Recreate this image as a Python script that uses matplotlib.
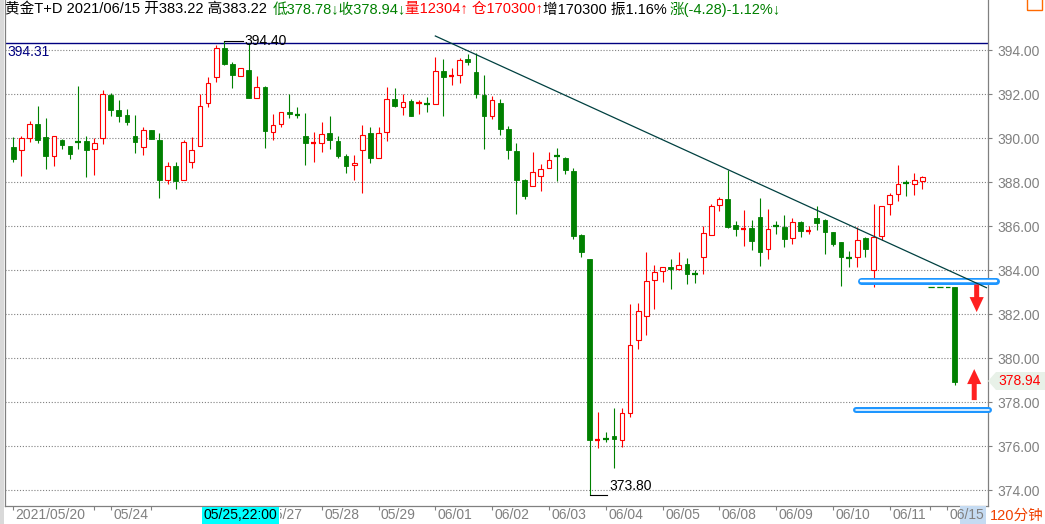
import numpy as np
import matplotlib
matplotlib.use('Agg')
import matplotlib.pyplot as plt
from matplotlib.patches import Rectangle, Polygon
import matplotlib.transforms as mtransforms

nan = np.nan
# ---------------- data ----------------
opens = [389.61, 389.45, 390.03, 390.64, 390.06, 389.21, 389.92, 389.65, 389.82, 389.88,
         389.50, 390.00, 391.98, 391.29, 391.06, 390.11, 389.62, 390.38, 389.92, 388.09,
         388.73, 388.12, 388.91, 389.64, 391.59, 392.77, 394.09, 393.38, 392.82, 393.11,
         391.85, 392.33, 390.27, 390.65, 391.20, 391.06, 390.11, 389.76, 389.80, 390.23,
         389.88, 389.18, 388.77, 389.45, 390.23, 389.12, 390.27, 391.77, 391.41, 391.68,
         391.58, 391.59, 391.55, 393.05, 392.80, 392.86, 393.61, 393.02, 391.98, 391.03,
         391.62, 390.44, 389.42, 388.11, 387.82, 388.27, 388.64, 389.19, 389.11, 388.50,
         385.59, 384.50, 376.27, 376.36, 376.47, 376.27, 377.53, 380.82, 381.91, 383.55,
         383.95, 384.15, 384.05, 384.29, 383.85, 384.62, 385.62, 386.95, 387.23, 386.06,
         385.85, 385.91, 386.41, 384.95, 386.02, 385.97, 385.45, 386.18, 385.76, 386.38,
         386.29, 385.74, 385.29, 384.59, 384.59, 385.47, 384.00, 385.58, 387.00, 387.45,
         388.00, 387.94, 388.08, nan, nan, nan, 383.22]
highs = [390.06, 390.11, 390.79, 391.45, 390.92, 390.11, 389.98, 389.65, 392.38, 390.11,
         390.00, 392.20, 392.08, 391.74, 391.32, 391.06, 390.50, 390.38, 390.23, 388.91,
         388.91, 389.91, 390.05, 392.00, 392.79, 394.26, 394.40, 393.48, 393.21, 394.32,
         392.83, 392.38, 391.11, 391.18, 392.02, 391.41, 391.14, 390.27, 390.74, 391.02,
         390.11, 389.29, 389.24, 390.61, 390.50, 390.50, 392.32, 392.27, 392.00, 391.77,
         391.73, 391.88, 393.68, 393.61, 393.20, 393.64, 393.83, 393.86, 392.89, 391.92,
         391.79, 390.56, 389.77, 388.15, 389.38, 388.82, 389.38, 389.56, 389.15, 388.67,
         385.64, 384.50, 377.55, 376.64, 377.74, 377.74, 382.48, 382.52, 384.82, 384.24,
         384.17, 384.52, 384.82, 384.56, 384.02, 386.02, 387.02, 387.33, 388.58, 386.23,
         386.73, 386.27, 387.29, 386.77, 386.24, 386.50, 386.36, 386.26, 386.02, 386.92,
         386.35, 385.74, 385.29, 384.88, 385.95, 385.52, 387.02, 386.91, 387.50, 388.79,
         388.11, 388.42, 388.27, nan, nan, nan, 383.22]
lows = [388.94, 388.30, 389.85, 389.80, 388.62, 388.74, 389.53, 389.08, 389.53, 388.26,
        388.35, 389.76, 391.03, 390.73, 390.59, 389.35, 389.26, 389.95, 387.30, 387.94,
        387.68, 388.09, 388.64, 389.64, 391.44, 392.58, 393.35, 392.30, 392.82, 391.83,
        391.85, 389.58, 389.92, 390.53, 390.94, 390.94, 388.79, 388.94, 389.39, 389.53,
        389.12, 388.41, 388.12, 387.53, 388.89, 389.12, 389.89, 391.44, 391.06, 391.03,
        391.12, 391.20, 391.55, 391.03, 392.44, 392.53, 393.35, 391.85, 389.53, 390.89,
        390.17, 389.08, 386.58, 387.26, 387.82, 387.62, 388.64, 388.08, 388.39, 385.44,
        384.59, 373.80, 375.91, 376.18, 375.03, 375.95, 377.35, 380.44, 381.05, 382.26,
        383.45, 383.17, 384.00, 383.38, 383.44, 383.85, 385.62, 386.71, 385.94, 385.58,
        385.12, 384.92, 384.21, 384.50, 385.67, 385.08, 385.18, 385.53, 385.64, 385.83,
        384.74, 385.12, 383.29, 384.17, 384.17, 384.59, 383.26, 385.38, 386.53, 387.15,
        387.39, 387.44, 387.71, nan, nan, nan, 378.78]
closes = [389.08, 390.00, 390.64, 389.94, 389.21, 390.11, 389.71, 389.30, 389.80, 389.48,
          389.77, 392.02, 391.30, 391.03, 390.74, 389.85, 390.38, 389.95, 388.12, 388.73,
          388.08, 389.82, 389.45, 391.45, 392.50, 394.09, 393.38, 392.88, 393.18, 391.83,
          392.32, 390.35, 390.59, 391.18, 391.09, 391.04, 389.80, 389.78, 390.18, 389.94,
          389.21, 388.76, 388.86, 390.14, 389.12, 390.23, 391.77, 391.48, 391.64, 391.03,
          391.61, 391.56, 393.05, 392.80, 392.83, 393.55, 393.48, 392.03, 391.03, 391.74,
          390.44, 389.48, 388.12, 387.39, 388.45, 388.61, 389.00, 389.17, 388.55, 385.58,
          384.85, 376.27, 376.30, 376.33, 376.32, 377.50, 380.59, 382.14, 383.50, 383.91,
          384.14, 384.05, 384.23, 383.83, 383.83, 385.68, 386.91, 387.23, 385.98, 385.89,
          385.88, 385.35, 384.85, 385.86, 386.00, 385.44, 386.18, 385.77, 385.83, 386.17,
          385.76, 385.21, 384.62, 384.57, 385.38, 384.98, 385.50, 386.91, 387.41, 387.91,
          387.98, 388.09, 388.23, nan, nan, nan, 378.94]

price_ticks = [374, 376, 378, 380, 382, 384, 386, 388, 390, 392, 394]
date_tick_pos = [0, 12, 31, 38, 45, 52, 59, 66, 73, 80, 87, 94, 101, 108, 115]
date_tick_labels = ['2021/05/20', '05/24', '05/27', '05/28', '05/29', '06/01', '06/02', '06/03',
                    '06/04', '06/05', '06/08', '06/09', '06/10', '06/11', '06/15']
minor_tick_pos = [10, 17, 113]

ref_line = 394.31
high_label = 394.40
low_label = 373.80
last_close = 378.94
last_open = 383.22
trend_pts = ([52.0, 119.9], [394.65, 383.21])
box_levels = [383.51, 377.67]

header = [("黄金T+D 2021/06/15 开383.22 高383.22", 'black', 5),
          ("低378.78↓收378.94↓", '#008000', 273),
          ("量12304↑ 仓170300↑", '#ff0000', 405),
          ("增170300 振1.16%", 'black', 543),
          ("涨(-4.28)-1.12%↓", '#008000', 670)]

# ---------------- figure ----------------
plt.rcParams['font.family'] = ['Liberation Sans', 'Noto Sans CJK SC', 'DejaVu Sans']
W, H = 1045, 524
fig = plt.figure(figsize=(W / 100, H / 100), dpi=100)
fig.patch.set_facecolor('white')

def fx(x):
    return x / W

def fy(y):
    return 1 - y / H

GRAY = '#808080'
GREEN = '#008000'
RED = '#ff0000'

ax = fig.add_axes([fx(5), fy(506), fx(987.7) - fx(5), fy(0) - fy(506)])
ax.set_facecolor('white')
ax.set_xlim(-1.023, 120.06)
ax.set_ylim(373.286, 396.286)

# grid
ax.hlines(price_ticks, -1.023, 120.06, colors=GRAY, linestyles=(0, (1, 1.6)), lw=0.8, zorder=1)
ax.axhline(ref_line, color='#000080', lw=1.0, zorder=2)

# candles
bw = 0.58
for i, (o, h, l, c) in enumerate(zip(opens, highs, lows, closes)):
    if np.isnan(o):
        continue
    up = c >= o
    col = RED if up else GREEN
    ax.vlines(i, l, h, color=col, lw=0.8, zorder=3)
    bot, top = min(o, c), max(o, c)
    if top - bot < 0.07:
        ax.hlines((o + c) / 2, i - bw / 2 - 0.05, i + bw / 2 + 0.05, color=col, lw=1.6, zorder=4)
    elif up:
        ax.add_patch(Rectangle((i - bw / 2, bot), bw, top - bot, facecolor='white',
                               edgecolor=col, lw=0.8, zorder=4))
    else:
        ax.add_patch(Rectangle((i - bw / 2, bot), bw, top - bot, facecolor=col,
                               edgecolor=col, lw=0.6, zorder=4))

# high / low annotations
ih = int(np.nanargmax(highs))
ax.plot([ih, ih + 2.3], [high_label + 0.02, high_label + 0.02], color='black', lw=0.8, zorder=5)
ax.text(ih + 2.5, high_label, f'{high_label:.2f}', ha='left', va='center', fontsize=10, color='black', zorder=6)
il = int(np.nanargmin(lows))
ax.plot([il, il + 2.1], [low_label - 0.02, low_label - 0.02], color='black', lw=0.8, zorder=5)
ax.text(il + 2.4, low_label + 0.4, f'{low_label:.2f}', ha='left', va='center', fontsize=10, color='black', zorder=6)

# ref label
fig.text(fx(7), fy(52), f'{ref_line:.2f}', ha='left', va='center', fontsize=10, color='#000080')

# pills (highlighted levels)
pill_specs = [(104.43, 121.13, 7, 2.5), (103.87, 120.18, 6, 1.6)]
for lvl, (x0, x1, outer, inner) in zip(box_levels, pill_specs):
    ln = ax.plot([x0, x1], [lvl, lvl], color='#1e96ff', lw=outer * 0.72, solid_capstyle='round', zorder=6)[0]
    ln.set_clip_on(False)
    ln2 = ax.plot([x0, x1], [lvl, lvl], color='white', lw=inner * 0.72, solid_capstyle='round', zorder=6.1)[0]
    ln2.set_clip_on(False)

# trendline
ax.plot(trend_pts[0], trend_pts[1], color='#004040', lw=0.9, zorder=7)

# dashed open level for last bar
ax.plot([112.7, 115.4], [last_open, last_open], color=GREEN, lw=0.9, ls=(0, (5, 2)), zorder=5)

# red arrows
ax.annotate('', xy=(118.7, 382.10), xytext=(118.7, 383.35),
            arrowprops=dict(arrowstyle='simple,head_length=0.9,head_width=0.85,tail_width=0.3',
                            fc='#ff2020', ec='none', mutation_scale=12, shrinkA=0, shrinkB=0),
            annotation_clip=False, zorder=8)
ax.annotate('', xy=(118.4, 379.51), xytext=(118.4, 378.10),
            arrowprops=dict(arrowstyle='simple,head_length=0.9,head_width=0.85,tail_width=0.3',
                            fc='#ff2020', ec='none', mutation_scale=12, shrinkA=0, shrinkB=0),
            annotation_clip=False, zorder=8)

# axes styling
for s in ['left', 'right', 'bottom']:
    ax.spines[s].set_color(GRAY)
    ax.spines[s].set_linewidth(0.9)
ax.spines['top'].set_visible(False)
ax.set_yticks(price_ticks)
ax.set_yticklabels([f'{v:.2f}' for v in price_ticks])
ax.tick_params(axis='y', left=False, right=True, labelleft=False, labelright=True,
               direction='out', length=3, width=0.8, color=GRAY, labelcolor=GRAY,
               labelsize=10, pad=4)
ax.set_xticks(sorted(date_tick_pos + minor_tick_pos))
ax.set_xticklabels([])
ax.tick_params(axis='x', direction='out', length=3, width=0.8, color=GRAY)

btrans = mtransforms.blended_transform_factory(ax.transData, fig.transFigure)
# highlight under last date label
ax.add_artist(Rectangle((fx(959.5), fy(524)), fx(986) - fx(959.5), fy(506) - fy(524),
                        transform=fig.transFigure, facecolor='#c5dbf2', edgecolor='none',
                        clip_on=False, zorder=9))
cbox = mtransforms.Bbox([[279.5, 0], [330, 20]])
for p, lab in zip(date_tick_pos, date_tick_labels):
    t = ax.text(p + 0.3, fy(515), lab, transform=btrans, ha='left', va='center',
                fontsize=10, color=GRAY, clip_on=False, zorder=10)
    if lab == '05/27':
        # partly hidden behind the crosshair date box
        t.set_clip_on(True)
        t.set_clip_box(cbox)

# crosshair date box
ax.add_artist(Rectangle((fx(201.7), fy(524)), fx(279.3) - fx(201.7), fy(506.7) - fy(524),
                        transform=fig.transFigure, facecolor='#00ffff', edgecolor='none',
                        clip_on=False, zorder=11))
ax.text(fx(203), fy(515), '05/25,22:00', transform=fig.transFigure, ha='left', va='center',
        fontsize=10, color='black', zorder=12, clip_on=False)

fig.text(fx(990), fy(516), '120分钟', ha='left', va='center', fontsize=10.5, color='#f04000')

# last price marker
ax.add_artist(Polygon([(fx(988), fy(381)), (fx(996), fy(372)), (fx(1045), fy(372)),
                       (fx(1045), fy(390)), (fx(996), fy(390))], closed=True,
                      transform=fig.transFigure, facecolor='#e8f1e8', edgecolor='none',
                      clip_on=False, zorder=9))
ax.text(fx(998), fy(381), f'{last_close:.2f}', transform=fig.transFigure, ha='left', va='center',
        fontsize=10, color=RED, zorder=10, clip_on=False)

# header
for txt, col, x in header:
    fig.text(fx(x), fy(9.5), txt, ha='left', va='center', fontsize=10.5, color=col)

# left strip & top-right icon
fig.add_artist(Rectangle((0, 0), fx(4), 1, transform=fig.transFigure, facecolor='#d9d9d9',
                         edgecolor='none'))
fig.add_artist(Rectangle((fx(1027), fy(10)), fx(15), fy(-2) - fy(10), transform=fig.transFigure,
                         facecolor='none', edgecolor='#ff6a00', lw=1.0, clip_on=False))

fig.savefig('out.png', dpi=100, facecolor='white')
